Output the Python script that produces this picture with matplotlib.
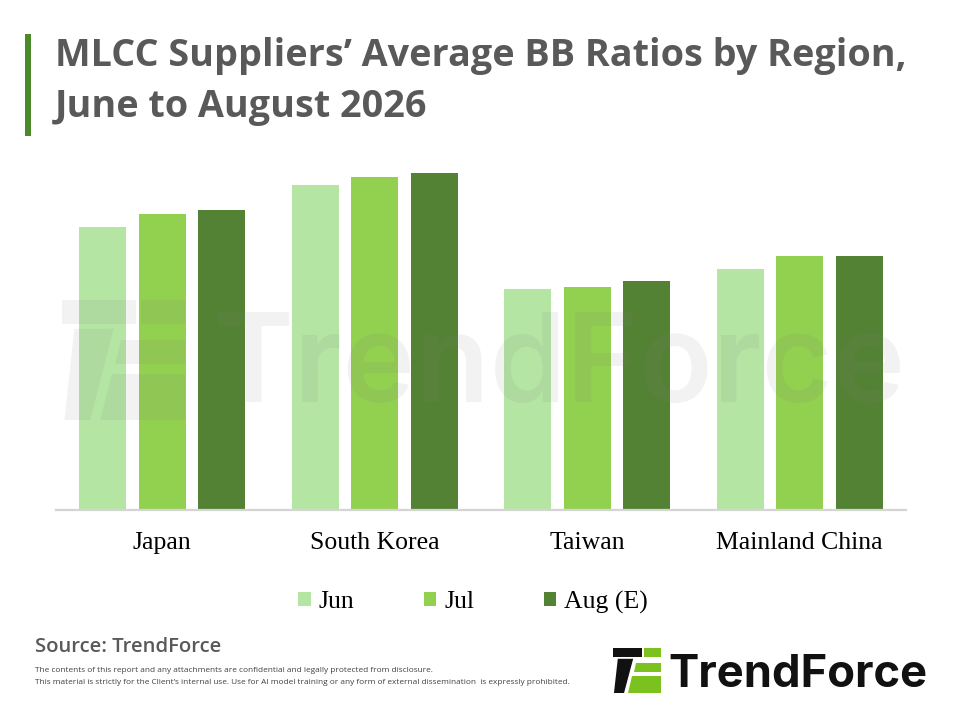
import matplotlib
matplotlib.use("Agg")
import matplotlib.pyplot as plt
from matplotlib.patches import Polygon, FancyBboxPatch
import numpy as np

# ---- data ----
categories = ["Japan", "South Korea", "Taiwan", "Mainland China"]
series_names = ["Jun", "Jul", "Aug (E)"]
jun = [0.942, 1.083, 0.737, 0.802]
jul = [0.987, 1.109, 0.743, 0.847]
aug = [1.000, 1.122, 0.763, 0.847]
series_values = [jun, jul, aug]
colors = ["#b5e5a3", "#92d050", "#548235"]

title_line1 = "MLCC Suppliers\u2019 Average BB Ratios by Region,"
title_line2 = "June to August 2026"
source_text = "Source: TrendForce"
disclaimer1 = "The contents of this report and any attachments are confidential and legally protected from disclosure."
disclaimer2 = ("This material is strictly for the Client\u2019s internal use. Use for AI model training "
               "or any form of external dissemination  is expressly prohibited.")

W, H = 960, 720
fig = plt.figure(figsize=(W / 100, H / 100), dpi=100)
fig.patch.set_facecolor("white")

# ---- chart ----
ax = fig.add_axes([56 / W, 1 - 510 / H, 850 / W, 350 / H])
x = np.arange(len(categories))
offsets = [-0.28, 0.0, 0.28]
bw = 0.2235
for vals, name, c, off in zip(series_values, series_names, colors, offsets):
    ax.bar(x + off, vals, width=bw, color=c, label=name, zorder=2)

ax.set_xlim(-0.5, len(categories) - 0.5)
ax.set_ylim(0, 1.1667)
ax.set_yticks([])
for s in ["left", "right", "top"]:
    ax.spines[s].set_visible(False)
ax.spines["bottom"].set_color("#d4d4d4")
ax.spines["bottom"].set_linewidth(1.6)
ax.set_xticks(x)
ax.set_xticklabels(categories, fontfamily="Liberation Serif", fontsize=18.5, color="#000000")
ax.tick_params(axis="x", length=0, pad=16)
ax.set_facecolor("none")

leg = ax.legend(loc="center", bbox_to_anchor=(473 / W, 1 - 602 / H),
                bbox_transform=fig.transFigure, ncol=3, frameon=False,
                prop={"family": "Liberation Serif", "size": 18.5},
                handlelength=0.49, handleheight=0.49, handletextpad=0.3,
                columnspacing=2.7, borderpad=0)

# ---- overlay for decorations (pixel coordinates) ----
oax = fig.add_axes([0, 0, 1, 1], zorder=10)
oax.set_xlim(0, W)
oax.set_ylim(H, 0)
oax.axis("off")
oax.set_facecolor("none")

renderer = fig.canvas.get_renderer()


def fit(t, target):
    for _ in range(3):
        bb = t.get_window_extent(renderer)
        t.set_fontsize(t.get_fontsize() * target / bb.width)


# title
oax.add_patch(plt.Rectangle((25, 34), 6, 102, color="#4b8a2a", lw=0))
t1 = oax.text(55, 66, title_line1, fontsize=22, fontweight="bold", family="Open Sans",
              color="#595959", va="baseline", ha="left")
fit(t1, 850)
t2 = oax.text(55, 117, title_line2, fontsize=t1.get_fontsize(), fontweight="bold",
              family="Open Sans", color="#595959", va="baseline", ha="left")

# source + disclaimer
ts = oax.text(35, 652, source_text, fontsize=14, fontweight="semibold", family="Open Sans",
              color="#595959", va="baseline", ha="left")
fit(ts, 186)
d2 = oax.text(35, 684, disclaimer2, fontsize=6, family="Open Sans", color="#404040",
              va="baseline", ha="left")
fit(d2, 535)
oax.text(35, 672, disclaimer1, fontsize=d2.get_fontsize(), family="Open Sans",
         color="#404040", va="baseline", ha="left")

# icon geometry (unit coords: u across, v down)
def g_left(v):
    return 0.50 - (v - 0.24) * 0.25

icon_shapes = {
    "top_dark": [(0.0, 0.0), (0.60, 0.0), (0.60, 0.2), (0.0, 0.2)],
    "stem": [(0.10, 0.24), (0.42, 0.24), (0.23, 1.0), (0.02, 1.0)],
    "top_green": [(0.64, 0.0), (1.0, 0.0), (1.0, 0.2), (0.64, 0.2)],
    "mid_green": [(g_left(0.33), 0.33), (1.0, 0.33), (1.0, 0.53), (g_left(0.53), 0.53)],
    "bot_green": [(g_left(0.62), 0.62), (1.0, 0.62), (1.0, 1.0), (g_left(1.0), 1.0)],
}


def draw_icon(x0, y0, w, h, color_map, alpha=1.0):
    for k, pts in icon_shapes.items():
        P = [(x0 + u * w, y0 + v * h) for u, v in pts]
        oax.add_patch(Polygon(P, closed=True, color=color_map[k], alpha=alpha, lw=0))


# logo
draw_icon(613, 648, 48, 45, {"top_dark": "#111111", "stem": "#111111",
                               "top_green": "#7cc21e", "mid_green": "#7cc21e",
                               "bot_green": "#7cc21e"})
tl = oax.text(668, 687, "TrendForce", fontsize=30, fontweight="bold", family="Inter",
              color="#111111", va="baseline", ha="left")
fit(tl, 259)

# watermark
gray = "#808080"
draw_icon(62, 300, 123, 120, {k: gray for k in icon_shapes}, alpha=0.1)
tw = oax.text(213, 402, "TrendForce", fontsize=80, fontweight="semibold", family="Inter",
              color=gray, alpha=0.1, va="baseline", ha="left")
fit(tw, 692)

fig.savefig("out.png", dpi=100, facecolor="white")
